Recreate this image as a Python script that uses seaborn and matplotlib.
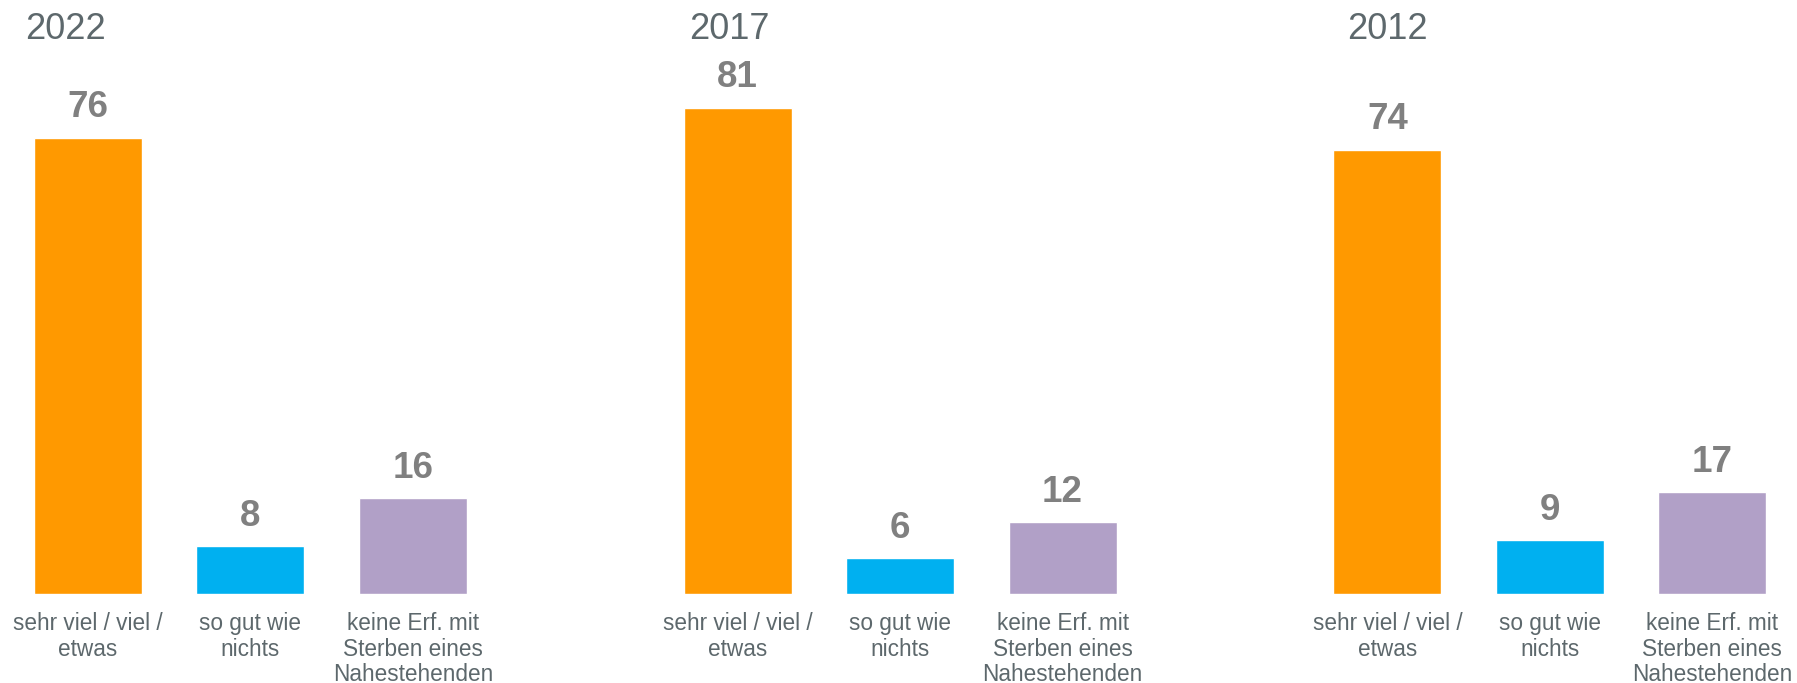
import matplotlib
matplotlib.use("Agg")
import matplotlib.pyplot as plt
import pandas as pd
import seaborn as sns

# data
years = ["2022", "2017", "2012"]
categories = [
    "sehr viel / viel /\netwas",
    "so gut wie\nnichts",
    "keine Erf. mit\nSterben eines\nNahestehenden",
]
values_2022 = [76, 8, 16]
values_2017 = [81, 6, 12]
values_2012 = [74, 9, 17]

BAR_COLORS = ["#FF9900", "#00B0F0", "#B1A0C7"]
TEXT_COLOR = "#5D686C"
VALUE_COLOR = "#808080"

sns.set_style("white")
plt.rcParams["font.family"] = ["Liberation Sans", "DejaVu Sans"]

fig, axes = plt.subplots(1, 3, figsize=(17.97, 6.83), dpi=100, sharey=True)
fig.subplots_adjust(left=0.0038, right=0.998, bottom=0.1303, top=0.8419, wspace=1 / 3)

# small horizontal nudge of the year headings relative to the first bar
title_x = [-0.14, -0.05, 0.0]

for ax, year, vals, tx in zip(axes, years, [values_2022, values_2017, values_2012], title_x):
    df = pd.DataFrame({"cat": categories, "val": vals})
    sns.barplot(data=df, x="cat", y="val", hue="cat", palette=BAR_COLORS,
                order=categories, hue_order=categories, width=0.665,
                saturation=1, legend=False, ax=ax)
    for cont in ax.containers:
        ax.bar_label(cont, padding=9, fontsize=26.5, fontweight="bold", color=VALUE_COLOR)
    ax.set_xlim(-0.5, 2.5)
    ax.set_ylim(0, 81)
    ax.set_xlabel("")
    ax.set_ylabel("")
    ax.set_yticks([])
    ax.tick_params(axis="x", length=0, pad=13, labelsize=16.3, labelcolor=TEXT_COLOR)
    for lbl in ax.get_xticklabels():
        lbl.set_multialignment("center")
        lbl.set_linespacing(1.15)
    sns.despine(ax=ax, left=True, bottom=True)
    ax.annotate(year, xy=(tx, 0.943), xycoords=("data", "figure fraction"),
                ha="center", va="baseline", fontsize=26, color=TEXT_COLOR)

fig.savefig("out.png", dpi=100)
